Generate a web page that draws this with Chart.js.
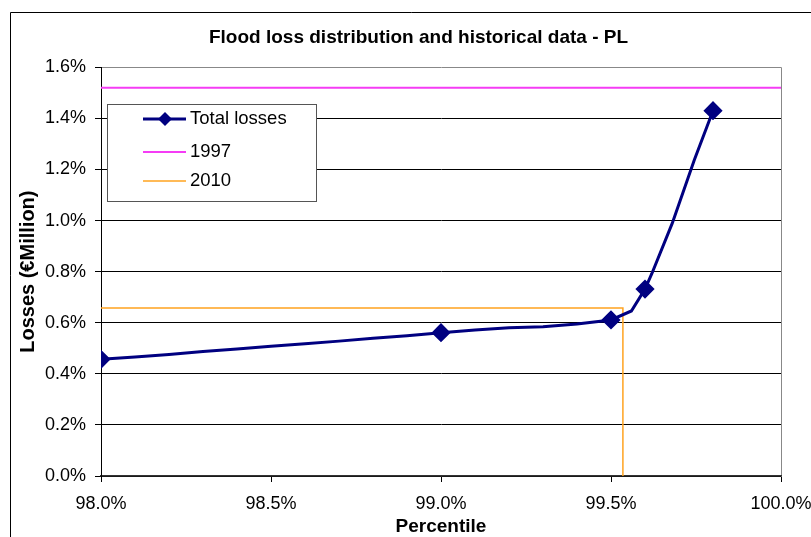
<!DOCTYPE html>
<html>
<head>
<meta charset="utf-8">
<script src="https://cdn.jsdelivr.net/npm/chart.js@4.4.1/dist/chart.umd.min.js"></script>
<style>
  html, body { margin: 0; padding: 0; background: #fff; }
  #wrap { width: 811px; height: 537px; }
</style>
</head>
<body>
<div id="wrap"><canvas id="chart" width="811" height="537"></canvas></div>
<script>
// Total losses curve (percentile -> loss, in %)
const percentiles = [98.0, 98.1, 98.2, 98.3, 98.4, 98.5, 98.6, 98.7, 98.8, 98.9,
                     99.0, 99.1, 99.2, 99.3, 99.4, 99.5, 99.56, 99.6, 99.62, 99.68, 99.745, 99.8];
const totalLosses = [0.457, 0.466, 0.476, 0.487, 0.497, 0.508, 0.518, 0.528, 0.539, 0.549,
                     0.561, 0.572, 0.580, 0.584, 0.595, 0.611, 0.646, 0.732, 0.792, 0.989, 1.237, 1.430];
// only these points carry a diamond marker
const markedPercentiles = [98.0, 99.0, 99.5, 99.6, 99.8];

// historical events
const loss1997 = 1.52;
const loss2010 = 0.658;
const pct2010 = 99.535;

const xTicks = [98.0, 98.5, 99.0, 99.5, 100.0];
const yTicks = [0, 0.2, 0.4, 0.6, 0.8, 1.0, 1.2, 1.4, 1.6];

const FONT = "'Liberation Sans', Arial, sans-serif";
const NAVY = '#000080';
const PINK = '#F53CF5';
const ORANGE = '#FFA31F';

// Excel-style legend box drawn inside the plot
const boxLegend = {
  id: 'boxLegend',
  afterLayout(chart) {
    // title sits a little right of the centre, as in the original
    chart.titleBlock.left += 22;
    chart.titleBlock.right += 22;
  },
  afterDatasetsDraw(chart) {
    const ctx = chart.ctx;
    const x0 = 107.5, y0 = 104.5, w = 209, h = 97;
    ctx.save();
    ctx.fillStyle = '#fff';
    ctx.fillRect(x0, y0, w, h);
    ctx.strokeStyle = '#555';
    ctx.lineWidth = 1;
    ctx.strokeRect(x0, y0, w, h);
    const rows = [119, 152, 181];
    chart.data.datasets.forEach((ds, i) => {
      const y = rows[i];
      ctx.strokeStyle = ds.borderColor;
      ctx.lineWidth = ds.borderWidth;
      ctx.beginPath();
      ctx.moveTo(143, y);
      ctx.lineTo(186, y);
      ctx.stroke();
      if (i === 0) {
        ctx.fillStyle = NAVY;
        ctx.beginPath();
        ctx.moveTo(165 - 7, y);
        ctx.lineTo(165, y - 7);
        ctx.lineTo(165 + 7, y);
        ctx.lineTo(165, y + 7);
        ctx.closePath();
        ctx.fill();
      }
      ctx.fillStyle = '#000';
      ctx.font = '18.5px ' + FONT;
      ctx.textBaseline = 'middle';
      ctx.fillText(ds.label, 190, y);
    });
    ctx.restore();
  }
};

// outer chart border (left / top visible only)
const outerBorder = {
  id: 'outerBorder',
  beforeDraw(chart) {
    const ctx = chart.ctx;
    ctx.save();
    ctx.strokeStyle = '#000';
    ctx.lineWidth = 1;
    ctx.beginPath();
    ctx.moveTo(10.5, 540);
    ctx.lineTo(10.5, 12.5);
    ctx.lineTo(815, 12.5);
    ctx.stroke();
    ctx.restore();
  }
};

new Chart(document.getElementById('chart'), {
  type: 'line',
  data: {
    datasets: [
      {
        label: 'Total losses',
        data: percentiles.map((p, i) => ({ x: p, y: totalLosses[i] })),
        borderColor: NAVY,
        backgroundColor: NAVY,
        borderWidth: 3,
        pointStyle: 'rectRot',
        pointRadius: percentiles.map(p => markedPercentiles.includes(p) ? 7.5 : 0),
        pointHoverRadius: 0,
        tension: 0,
        order: 0,
      },
      {
        label: '1997',
        data: [{ x: 98, y: loss1997 }, { x: 100, y: loss1997 }],
        borderColor: PINK,
        borderWidth: 2,
        pointRadius: 0,
        order: 1,
      },
      {
        label: '2010',
        data: [{ x: 98, y: loss2010 }, { x: pct2010, y: loss2010 }, { x: pct2010, y: 0 }],
        borderColor: ORANGE,
        borderWidth: 1.5,
        pointRadius: 0,
        order: 2,
      },
    ],
  },
  options: {
    responsive: false,
    animation: false,
    layout: { padding: { left: 12, right: 30, top: 12, bottom: 0 } },
    plugins: {
      legend: { display: false },
      tooltip: { enabled: false },
      title: {
        display: true,
        text: 'Flood loss distribution and historical data - PL',
        color: '#000',
        font: { family: FONT, size: 19, weight: 'bold' },
        padding: { top: 14.5, bottom: 18 },
      },
    },
    scales: {
      x: {
        type: 'linear',
        min: 98,
        max: 100,
        afterBuildTicks: s => { s.ticks = xTicks.map(v => ({ value: v })); },
        afterFit: s => { s.height = 61; s.paddingLeft = 0; s.paddingRight = 0; },
        ticks: {
          color: '#000',
          font: { family: FONT, size: 18 },
          padding: 11,
          maxRotation: 0,
          callback: v => v.toFixed(1) + '%',
        },
        grid: {
          color: ctx => (ctx.tick && ctx.tick.value === 100 ? '#888' : 'rgba(0,0,0,0)'),
          tickColor: '#000',
          tickLength: 6,
          drawOnChartArea: true,
        },
        border: { color: '#333', width: 1.5 },
        title: {
          display: true,
          text: 'Percentile',
          color: '#000',
          font: { family: FONT, size: 19, weight: 'bold' },
          padding: { top: 0, bottom: -1.5 },
        },
      },
      y: {
        min: 0,
        max: 1.6,
        afterBuildTicks: s => { s.ticks = yTicks.map(v => ({ value: v })); },
        afterFit: s => { s.width = 89; },
        ticks: {
          color: '#000',
          font: { family: FONT, size: 18 },
          padding: 9,
          callback: v => v.toFixed(1) + '%',
        },
        grid: {
          color: ctx => (ctx.tick && ctx.tick.value >= 1.59 ? '#888' : '#000'),
          tickColor: '#000',
          tickLength: 6,
        },
        border: { color: '#000', width: 1 },
        title: {
          display: true,
          text: 'Losses (€Million)',
          color: '#000',
          font: { family: FONT, size: 20, weight: 'bold' },
          padding: { top: 4, bottom: 0 },
        },
      },
    },
  },
  plugins: [outerBorder, boxLegend],
});
</script>
</body>
</html>
